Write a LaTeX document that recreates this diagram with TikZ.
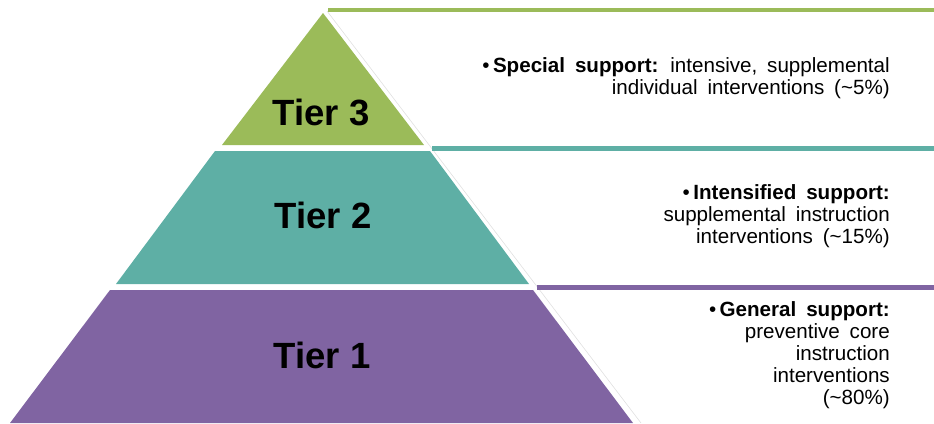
\documentclass[tikz,border=0pt]{standalone}
\usepackage{fontspec}
\setmainfont{Liberation Sans}
\usetikzlibrary{positioning}
\definecolor{tiergreen}{HTML}{9BBB59}
\definecolor{tierteal}{HTML}{5EAFA5}
\definecolor{tierpurple}{HTML}{8064A2}
\newcommand\descfont{\fontsize{20.6}{22}\selectfont\setlength\spaceskip{0.48em}}

\begin{document}
\begin{tikzpicture}[x=1pt,y=-1pt,
    tier/.style={font=\fontsize{36.5}{40}\selectfont\bfseries,inner sep=0pt},
    desc/.style={anchor=east,align=right,inner sep=0pt,font=\descfont},
    bar/.style={fill=#1,draw=none}]
    \useasboundingbox (0,0) rectangle (934,423);

    \fill[tiergreen] (323,13) -- (424,145) -- (222,145) -- cycle;
    \fill[tierteal] (215,151) -- (430,151) -- (529,284) -- (116,284) -- cycle;
    \fill[tierpurple] (110,290) -- (533,290) -- (633,423) -- (10,423) -- cycle;
    \draw[black!12,line width=0.6pt] (327,11) -- (641,423);

    \fill[bar=tiergreen] (328,8) rectangle (934,12);
    \fill[bar=tierteal] (432,146) rectangle (934,151);
    \fill[bar=tierpurple] (537,285) rectangle (934,290);

    \node[tier] (tier3) at (321,112) {Tier 3};
    \node[tier] (tier2) at (323,215) {Tier 2};
    \node[tier] (tier1) at (322,355) {Tier 1};

    \node[desc] (special) at (890,78.5)
      {•\,\textbf{Special support:} intensive, supplemental\\
       individual interventions (\textasciitilde5\%)};
    \node[desc] (intensified) at (890,216.5)
      {•\,\textbf{Intensified support:}\\
       supplemental instruction\\
       interventions (\textasciitilde15\%)};
    \node[desc] (general) at (890,355.5)
      {•\,\textbf{General support:}\\
       preventive core\\
       instruction\\
       interventions\\
       (\textasciitilde80\%)};
\end{tikzpicture}
\end{document}
